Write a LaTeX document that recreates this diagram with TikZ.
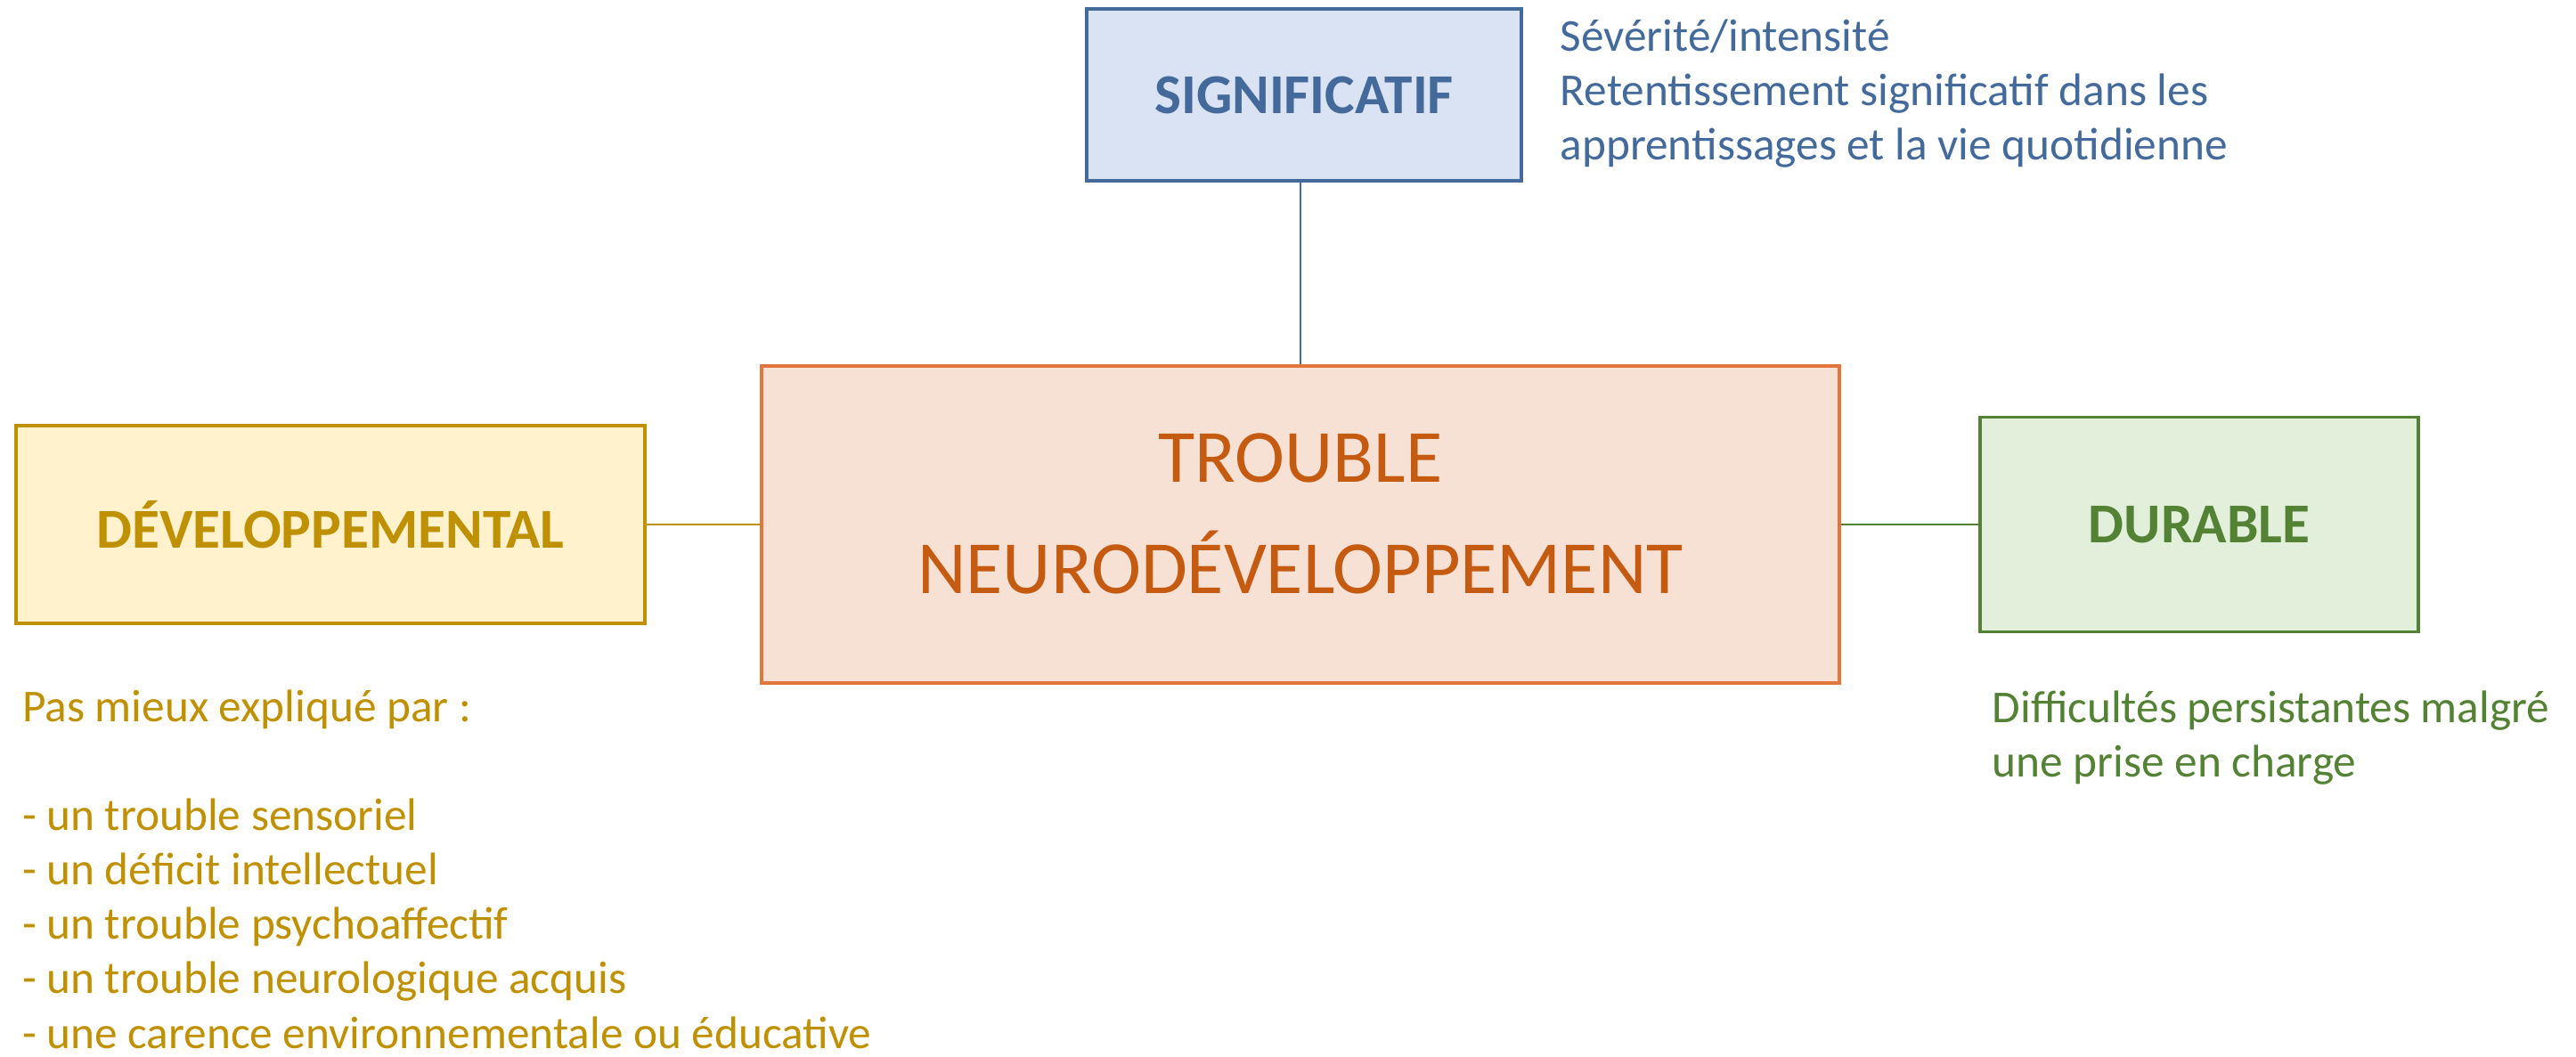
\documentclass[tikz,border=0pt]{standalone}
\usepackage{fontspec}
\setmainfont{Carlito}
\usepackage{tikz}
\usetikzlibrary{positioning,calc}
\definecolor{sigblue}{HTML}{436A9B}
\definecolor{sigfill}{HTML}{DAE3F3}
\definecolor{devgold}{HTML}{BF9000}
\definecolor{devfill}{HTML}{FFF2CC}
\definecolor{tndorange}{HTML}{C55A11}
\definecolor{tndline}{HTML}{E2763D}
\definecolor{tndfill}{HTML}{F7E0D4}
\definecolor{durgreen}{HTML}{548235}
\definecolor{durfill}{HTML}{E2EFDA}
\begin{document}
\begin{tikzpicture}[
      box/.style={rectangle, draw, line width=0.9pt, inner sep=0pt},
      keyword/.style={box, font=\fontsize{18}{22}\selectfont\bfseries},
      note/.style={anchor=base west, align=left, inner sep=0pt,
        font=\fontsize{14.6}{17.4}\selectfont}]
      \useasboundingbox (0,0) rectangle (28.92,11.86);
      \node[box, fill=tndfill, draw=tndline, text=tndorange, align=center,
        minimum width=12.1cm, minimum height=3.56cm, text depth=0.24cm,
        font=\fontsize{24}{35.6}\selectfont] (tnd) at (14.60,5.97)
        {TROUBLE\\NEURODÉVELOPPEMENT};
      \node[keyword, fill=sigfill, draw=sigblue, text=sigblue,
        minimum width=4.88cm, minimum height=1.93cm] (sig) at (14.64,10.795) {SIGNIFICATIF};
      \node[keyword, fill=devfill, draw=devgold, text=devgold,
        minimum width=7.06cm, minimum height=2.22cm] (dev) at (3.71,5.97) {DÉVELOPPEMENTAL};
      \node[keyword, fill=durfill, draw=durgreen, text=durgreen,
        minimum width=4.92cm, minimum height=2.41cm] (dur) at (24.69,5.97) {DURABLE};
      \draw[sigblue, line width=0.6pt] (tnd.north) -- (tnd.north |- sig.south);
      \draw[devgold, line width=0.6pt] (dev) -- (tnd);
      \draw[durgreen, line width=0.6pt] (tnd) -- (dur);
      \node[note, text=sigblue] (signote) at (17.51,10.06)
        {Sévérité/intensité\\Retentissement significatif dans les\\apprentissages et la vie quotidienne};
      \node[note, text=devgold] (devnote) at (0.245,0.09)
        {Pas mieux expliqué par :\\[\baselineskip]
         - un trouble sensoriel\\
         - un déficit intellectuel\\
         - un trouble psychoaffectif\\
         - un trouble neurologique acquis\\
         - une carence environnementale ou éducative};
      \node[note, text=durgreen] (durnote) at (22.36,3.13)
        {Difficultés persistantes malgré\\une prise en charge};
    \end{tikzpicture}
\end{document}
